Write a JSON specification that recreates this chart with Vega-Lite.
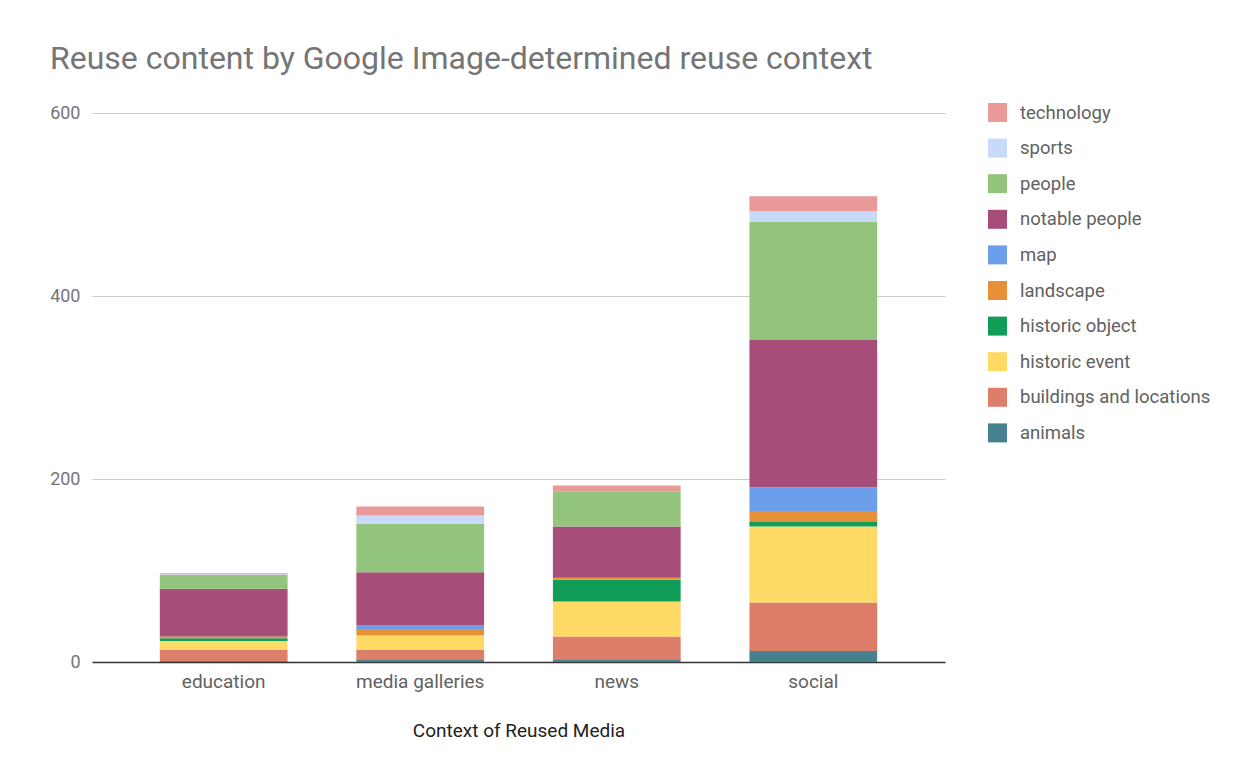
{
  "$schema": "https://vega.github.io/schema/vega-lite/v6.json",
  "width": 853,
  "height": 549,
  "autosize": {"type": "none"},
  "padding": {"left": 92, "top": 113, "right": 314, "bottom": 114},
  "background": "white",
  "title": {
    "text": "Reuse content by Google Image-determined reuse context",
    "anchor": "start",
    "frame": "group",
    "dx": -42,
    "offset": 2,
    "baseline": "alphabetic",
    "font": "Roboto",
    "fontSize": 32,
    "fontWeight": "normal",
    "color": "#757575"
  },
  "data": {
    "values": [
      {"context": "education", "category": "animals", "count": 1},
      {"context": "education", "category": "buildings and locations", "count": 12},
      {"context": "education", "category": "historic event", "count": 10},
      {"context": "education", "category": "historic object", "count": 3},
      {"context": "education", "category": "landscape", "count": 2},
      {"context": "education", "category": "map", "count": 0},
      {"context": "education", "category": "notable people", "count": 52},
      {"context": "education", "category": "people", "count": 15},
      {"context": "education", "category": "sports", "count": 1},
      {"context": "education", "category": "technology", "count": 1},
      {"context": "media galleries", "category": "animals", "count": 3},
      {"context": "media galleries", "category": "buildings and locations", "count": 10},
      {"context": "media galleries", "category": "historic event", "count": 16},
      {"context": "media galleries", "category": "historic object", "count": 0},
      {"context": "media galleries", "category": "landscape", "count": 7},
      {"context": "media galleries", "category": "map", "count": 4},
      {"context": "media galleries", "category": "notable people", "count": 58},
      {"context": "media galleries", "category": "people", "count": 53},
      {"context": "media galleries", "category": "sports", "count": 9},
      {"context": "media galleries", "category": "technology", "count": 10},
      {"context": "news", "category": "animals", "count": 3},
      {"context": "news", "category": "buildings and locations", "count": 25},
      {"context": "news", "category": "historic event", "count": 38},
      {"context": "news", "category": "historic object", "count": 24},
      {"context": "news", "category": "landscape", "count": 2},
      {"context": "news", "category": "map", "count": 0},
      {"context": "news", "category": "notable people", "count": 56},
      {"context": "news", "category": "people", "count": 38},
      {"context": "news", "category": "sports", "count": 0},
      {"context": "news", "category": "technology", "count": 7},
      {"context": "social", "category": "animals", "count": 12},
      {"context": "social", "category": "buildings and locations", "count": 53},
      {"context": "social", "category": "historic event", "count": 83},
      {"context": "social", "category": "historic object", "count": 5},
      {"context": "social", "category": "landscape", "count": 12},
      {"context": "social", "category": "map", "count": 26},
      {"context": "social", "category": "notable people", "count": 161},
      {"context": "social", "category": "people", "count": 129},
      {"context": "social", "category": "sports", "count": 12},
      {"context": "social", "category": "technology", "count": 16}
    ]
  },
  "mark": {"type": "bar"},
  "encoding": {
    "x": {
      "field": "context",
      "type": "nominal",
      "title": "Context of Reused Media",
      "scale": {"paddingInner": 0.35, "paddingOuter": 0.345},
      "axis": {
        "labelAngle": 0,
        "labelFont": "Roboto",
        "labelFontSize": 19,
        "labelColor": "#616161",
        "labelPadding": 10,
        "ticks": false,
        "domainColor": "#333333",
        "domainWidth": 1.5,
        "titleFont": "Roboto",
        "titleFontSize": 19,
        "titleFontWeight": "normal",
        "titleColor": "#222222",
        "titlePadding": 30
      }
    },
    "y": {
      "field": "count",
      "type": "quantitative",
      "aggregate": "sum",
      "title": null,
      "stack": "zero",
      "scale": {"domain": [0, 600], "nice": false},
      "axis": {
        "values": [0, 200, 400, 600],
        "labelFont": "Roboto",
        "labelFontSize": 18,
        "labelColor": "#757575",
        "labelPadding": 12,
        "ticks": false,
        "domain": false,
        "gridColor": "#cccccc",
        "gridWidth": 1
      }
    },
    "order": {"field": "category", "sort": "ascending"},
    "color": {
      "field": "category",
      "type": "nominal",
      "sort": ["technology", "sports", "people", "notable people", "map", "landscape", "historic object", "historic event", "buildings and locations", "animals"],
      "scale": {
        "domain": ["technology", "sports", "people", "notable people", "map", "landscape", "historic object", "historic event", "buildings and locations", "animals"],
        "range": ["#ea9999", "#c9daf8", "#93c47d", "#a64d79", "#6d9eeb", "#e69138", "#0f9d58", "#ffd966", "#dd7e6b", "#45818e"]
      },
      "legend": {
        "title": null,
        "orient": "none",
        "legendX": 896,
        "legendY": -10,
        "symbolType": "square",
        "symbolSize": 361,
        "symbolStrokeWidth": 0,
        "symbolOpacity": 1,
        "labelFont": "Roboto",
        "labelFontSize": 18.5,
        "labelColor": "#616161",
        "labelOffset": 13,
        "labelLimit": 300,
        "rowPadding": 16.6
      }
    }
  },
  "config": {
    "view": {"stroke": null},
    "font": "Roboto"
  }
}
